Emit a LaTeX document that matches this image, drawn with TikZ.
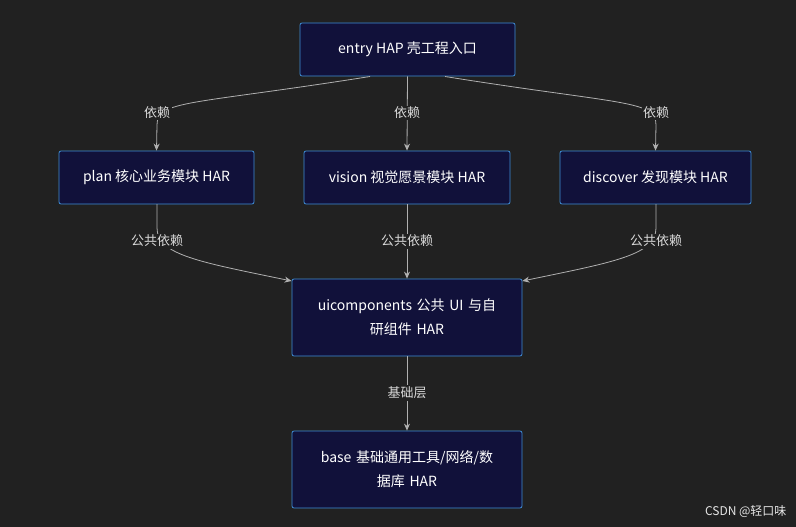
\documentclass[tikz,border=0pt]{standalone}
\usepackage{fontspec}
\setmainfont{Noto Sans CJK SC}
\usetikzlibrary{arrows.meta}
\definecolor{bg}{HTML}{212121}
\definecolor{nfill}{HTML}{11113A}
\definecolor{nborder}{HTML}{3F8FD8}
\definecolor{edge}{HTML}{B0B0B0}
\begin{document}
\begin{tikzpicture}[x=1pt,y=-1pt,
  box/.style={draw=nborder,fill=nfill,line width=0.8pt,rounded corners=2pt,text=white,font=\fontsize{14}{24}\selectfont,align=center,inner sep=0pt},
  conn/.style={draw=edge,line width=0.8pt,-{Stealth[length=7pt,width=6pt]}},
  lab/.style={fill=bg,text=white!85!black,font=\fontsize{13}{15}\selectfont,inner sep=1.5pt}]
\fill[bg] (0,0) rectangle (796,527);
\useasboundingbox (0,0) rectangle (796,527);
\node[box,minimum width=215pt,minimum height=53pt] (entry) at (407.5,49.5) {entry HAP 壳工程入口};
\node[box,minimum width=195pt,minimum height=53pt] (plan) at (156.5,177.5) {plan 核心业务模块 HAR};
\node[box,minimum width=206pt,minimum height=53pt] (vision) at (407,177.5) {vision 视觉愿景模块 HAR};
\node[box,minimum width=191pt,minimum height=53pt] (disc) at (655.5,177.5) {discover 发现模块 HAR};
\node[box,minimum width=230pt,minimum height=77pt,text width=220pt] (ui) at (407,317.5) {uicomponents 公共 UI 与自\\研组件 HAR};
\node[box,minimum width=230pt,minimum height=77pt,text width=220pt] (base) at (407,469.5) {base 基础通用工具/网络/数\\据库 HAR};
\coordinate (e1) at (370,76.5);
\coordinate (e2) at (445,76.5);
\draw[conn] (e1) .. controls (190,105) and (157,100) .. (157,125) -- (plan.north);
\draw[conn] (e2) .. controls (624,105) and (656,100) .. (656,125) -- (disc.north);
\draw[conn] (entry.south) -- (vision.north);
\coordinate (p1) at (157,204);
\coordinate (d1) at (656,204);
\draw[conn] (p1) -- (157,228) .. controls (157,255) and (200,262) .. (ui.west|-{(0,281)});
\draw[conn] (d1) -- (656,228) .. controls (656,255) and (614,262) .. (ui.east|-{(0,281)});
\draw[conn] (vision.south) -- (ui.north);
\draw[conn] (ui.south) -- (base.north);
\node[lab] (l1) at (157,113) {依赖};
\node[lab] (l2) at (407,113) {依赖};
\node[lab] (l3) at (656,113) {依赖};
\node[lab] (l4) at (157,241) {公共依赖};
\node[lab] (l5) at (407,241) {公共依赖};
\node[lab] (l6) at (656,241) {公共依赖};
\node[lab] (l7) at (407,393) {基础层};
\node[text=white!90!black,font=\fontsize{12}{14}\selectfont,anchor=east] (wm) at (790,511) {CSDN @轻口味};
\end{tikzpicture}
\end{document}
